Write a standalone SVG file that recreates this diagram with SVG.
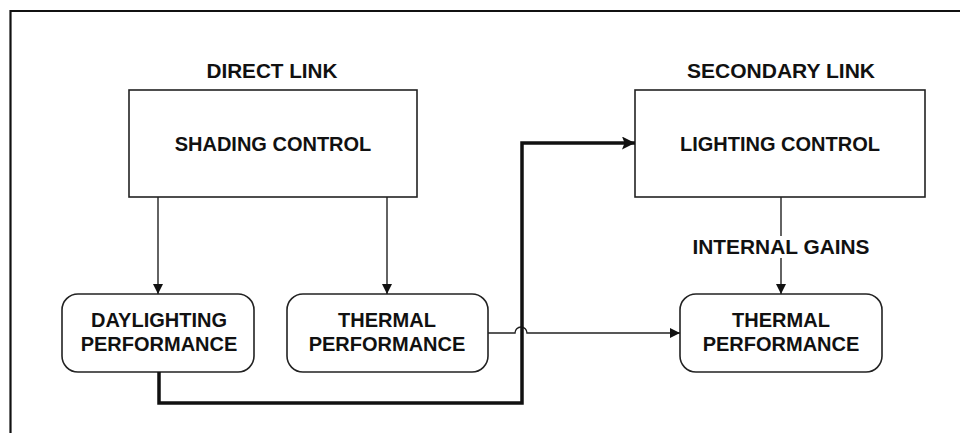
<svg xmlns="http://www.w3.org/2000/svg" width="960" height="433" viewBox="0 0 960 433">
<style>
text{font-family:"Liberation Sans",Arial,sans-serif;font-weight:bold;font-size:20px;fill:#111;text-anchor:middle}
.box{fill:#fff;stroke:#222;stroke-width:1.6}
.thin{fill:none;stroke:#222;stroke-width:1.4}
.thick{fill:none;stroke:#111;stroke-width:3.5}
</style>
<defs>
<marker id="ah" viewBox="0 0 10 10" refX="10" refY="5" markerWidth="11" markerHeight="10" markerUnits="userSpaceOnUse" orient="auto">
<path d="M0,0 L10,5 L0,10 z" fill="#111"/>
</marker>
<marker id="ahb" viewBox="0 0 10 10" refX="10" refY="5" markerWidth="15" markerHeight="13" markerUnits="userSpaceOnUse" orient="auto">
<path d="M0,0 L10,5 L0,10 L2,5 z" fill="#111"/>
</marker>
</defs>
<rect width="960" height="433" fill="#fff"/>
<path d="M10.5,433 V11 H960" fill="none" stroke="#111" stroke-width="2.2"/>
<text x="272" y="78" textLength="131" lengthAdjust="spacingAndGlyphs">DIRECT LINK</text>
<text x="781" y="78" textLength="188" lengthAdjust="spacingAndGlyphs">SECONDARY LINK</text>
<g id="shading">
<rect class="box" x="129" y="90" width="288" height="107"/>
<text x="273" y="151">SHADING CONTROL</text>
</g>
<g id="lighting">
<rect class="box" x="635" y="90" width="290" height="107"/>
<text x="780" y="151">LIGHTING CONTROL</text>
</g>
<g id="daylighting">
<rect class="box" x="62" y="294" width="192" height="78" rx="16"/>
<text x="159" y="327">DAYLIGHTING</text>
<text x="159" y="351">PERFORMANCE</text>
</g>
<g id="thermal1">
<rect class="box" x="287" y="294" width="201" height="78" rx="16"/>
<text x="387" y="327">THERMAL</text>
<text x="387" y="351">PERFORMANCE</text>
</g>
<g id="thermal2">
<rect class="box" x="680" y="294" width="202" height="78" rx="16"/>
<text x="781" y="327">THERMAL</text>
<text x="781" y="351">PERFORMANCE</text>
</g>
<g id="connectors">
<path class="thin" d="M158,197 V294" marker-end="url(#ah)"/>
<path class="thin" d="M387,197 V294" marker-end="url(#ah)"/>
<path class="thin" d="M781,197 V236"/>
<path class="thin" d="M781,258 V294" marker-end="url(#ah)"/>
<text x="781" y="254" textLength="177" lengthAdjust="spacingAndGlyphs">INTERNAL GAINS</text>
<path class="thin" d="M488,333 H515 A6,6 0 0 1 527,333 H680" marker-end="url(#ah)"/>
<path class="thick" d="M159,372 V403 H522 V143 H635" marker-end="url(#ahb)"/>
</g>
</svg>
